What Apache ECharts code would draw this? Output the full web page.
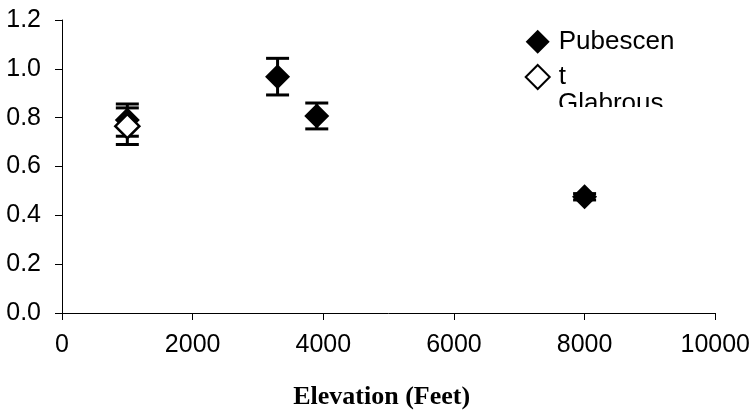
<!DOCTYPE html>
<html>
<head>
<meta charset="utf-8">
<script src="https://cdn.jsdelivr.net/npm/echarts@6/dist/echarts.min.js"></script>
<style>
  html, body { margin: 0; padding: 0; background: #fff; }
  #chart { width: 753px; height: 417px; }
</style>
</head>
<body>
<div id="chart"></div>
<script>
// ---- Data ----
const seriesNames = ['Pubescent', 'Glabrous'];
const pubElevation = [1000, 3300, 3900, 8000];
const pubMean      = [0.790, 0.968, 0.807, 0.476];
const pubError     = [0.066, 0.075, 0.053, 0.013];
const glabElevation = [1000];
const glabMean      = [0.765];
const glabError     = [0.075];
const yTicks = [0, 0.2, 0.4, 0.6, 0.8, 1.0, 1.2];
const xTicks = [0, 2000, 4000, 6000, 8000, 10000];
const xTitle = 'Elevation (Feet)';

const pubPoints = pubElevation.map((x, i) => [x, pubMean[i]]);
const glabPoints = glabElevation.map((x, i) => [x, glabMean[i]]);
const pubBars = pubElevation.map((x, i) => [x, pubMean[i] - pubError[i], pubMean[i] + pubError[i]]);
const glabBars = glabElevation.map((x, i) => [x, glabMean[i] - glabError[i], glabMean[i] + glabError[i]]);

function errorBarItem(params, api) {
  const x = api.value(0);
  const lo = api.coord([x, api.value(1)]);
  const hi = api.coord([x, api.value(2)]);
  const hw = 11.5;
  const st = { stroke: '#000', lineWidth: 3 };
  return {
    type: 'group',
    children: [
      { type: 'line', shape: { x1: hi[0], y1: hi[1], x2: lo[0], y2: lo[1] }, style: st },
      { type: 'line', shape: { x1: hi[0] - hw, y1: hi[1], x2: hi[0] + hw, y2: hi[1] }, style: st },
      { type: 'line', shape: { x1: lo[0] - hw, y1: lo[1], x2: lo[0] + hw, y2: lo[1] }, style: st }
    ]
  };
}

const diamondPath = 'path://M12,0L24,12L12,24L0,12Z';
const chart = echarts.init(document.getElementById('chart'), null, { renderer: 'canvas' });

chart.setOption({
  backgroundColor: '#fff',
  animation: false,
  grid: { left: 62, right: 35, top: 20, bottom: 104, containLabel: false },
  xAxis: {
    type: 'value',
    min: xTicks[0],
    max: xTicks[xTicks.length - 1],
    interval: xTicks[1] - xTicks[0],
    name: xTitle,
    nameLocation: 'middle',
    nameGap: 71,
    nameTextStyle: {
      fontFamily: 'Liberation Serif', fontWeight: 'bold', fontSize: 26, color: '#000',
      padding: [0, 14, 0, 0]
    },
    axisLine: { show: true, onZero: false, lineStyle: { color: '#000', width: 1 } },
    axisTick: { show: true, inside: false, length: 7, lineStyle: { color: '#000', width: 1 } },
    axisLabel: {
      fontFamily: 'Liberation Sans', fontSize: 25, color: '#000', margin: 20, showMaxLabel: true,
      formatter: v => String(v)
    },
    splitLine: { show: false }
  },
  yAxis: {
    type: 'value',
    min: yTicks[0],
    max: yTicks[yTicks.length - 1],
    interval: 0.2,
    axisLine: { show: true, lineStyle: { color: '#000', width: 1 } },
    axisTick: { show: true, inside: false, length: 7, lineStyle: { color: '#000', width: 1 } },
    axisLabel: {
      fontFamily: 'Liberation Sans', fontSize: 25, color: '#000', margin: 21,
      formatter: v => v.toFixed(1)
    },
    splitLine: { show: false }
  },
  legend: {
    orient: 'vertical',
    left: 524.7,
    top: 28.7,
    padding: 0,
    itemWidth: 24,
    itemHeight: 24,
    itemGap: 9.3,
    textStyle: { fontFamily: 'Liberation Sans', fontSize: 26, color: '#000', padding: [6, 0, 0, 4] },
    formatter: name => (name === seriesNames[0] ? 'Pubescen' : 't'),
    data: [
      { name: seriesNames[0], icon: diamondPath, itemStyle: { color: '#000', borderWidth: 0 } },
      { name: seriesNames[1], icon: diamondPath, itemStyle: { color: '#fff', borderColor: '#000', borderWidth: 2 } }
    ]
  },
  graphic: [
    {
      type: 'text', left: 558, top: 91, z: 100,
      style: { text: 'Glabrous', font: '26px "Liberation Sans"', fill: '#000' }
    },
    {
      type: 'rect', left: 545, top: 107, z: 101,
      shape: { width: 180, height: 30 },
      style: { fill: '#fff' }
    }
  ],
  series: [
    {
      name: seriesNames[0] + ' error',
      type: 'custom',
      renderItem: errorBarItem,
      data: pubBars,
      z: 1,
      silent: true
    },
    {
      name: seriesNames[1] + ' error',
      type: 'custom',
      renderItem: errorBarItem,
      data: glabBars,
      z: 1,
      silent: true
    },
    {
      name: seriesNames[0],
      type: 'scatter',
      symbol: 'diamond',
      symbolSize: 25,
      itemStyle: { color: '#000', opacity: 1 },
      data: pubPoints,
      z: 2
    },
    {
      name: seriesNames[1],
      type: 'scatter',
      symbol: 'diamond',
      symbolSize: 24,
      itemStyle: { color: '#fff', borderColor: '#000', borderWidth: 2.5, opacity: 1 },
      data: glabPoints,
      z: 3
    }
  ]
});
</script>
</body>
</html>
